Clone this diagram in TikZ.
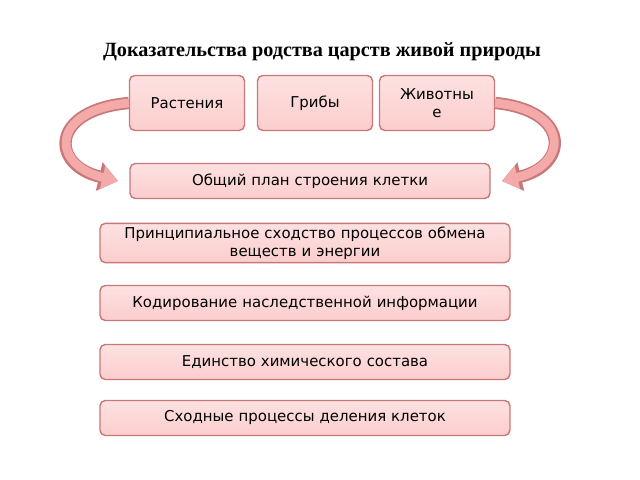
\documentclass[tikz,border=0pt]{standalone}
\usepackage{fontspec}
\setmainfont{DejaVu Sans}
\newfontfamily\titlefont{Liberation Serif}
\usetikzlibrary{arrows.meta, positioning}
\definecolor{boxfill}{RGB}{252,205,205}
\definecolor{boxedge}{RGB}{200,120,120}
\definecolor{arrowfill}{RGB}{245,170,170}

\begin{document}
\begin{tikzpicture}[
  x=0.02cm, y=-0.02cm,
  card/.style={rectangle, rounded corners=3pt, draw=boxedge, line width=0.8pt,
    top color=white!40!boxfill, bottom color=boxfill, align=center,
    font=\fontsize{8.5pt}{10pt}\selectfont, inner sep=2pt},
  kingdom/.style={card, minimum width=2.3cm, minimum height=1.1cm, text width=2.1cm},
  wide/.style={card, minimum width=8.2cm, minimum height=0.7cm, text width=8cm},
  curvearrow/.style={draw=boxedge, line width=7pt, -{Triangle[width=16pt,length=11pt]}},
  curvearrowin/.style={draw=arrowfill, line width=5pt, -{Triangle[width=13pt,length=9pt]}}
]
  \useasboundingbox (0,0) rectangle (640,480);

  % Title
  \node[font=\titlefont\bfseries\fontsize{11.5pt}{13pt}\selectfont] (title) at (322,52)
    {Доказательства родства царств живой природы};

  % Kingdoms
  \node[kingdom] (plants) at (187,103) {Растения};
  \node[kingdom] (fungi) at (315,103) {Грибы};
  \node[kingdom] (animals) at (437,103) {Животны\\е};

  % Common
  \node[card, minimum width=7.2cm, minimum height=0.7cm, text width=7cm] (plan) at (310,181)
    {Общий план строения клетки};
  \node[wide] (metab) at (305,243) {Принципиальное сходство процессов обмена\\веществ и энергии};
  \node[wide] (code) at (305,303) {Кодирование наследственной информации};
  \node[wide] (chem) at (305,362) {Единство химического состава};
  \node[wide] (div) at (305,418) {Сходные процессы деления клеток};

  % Curved arrows
  \coordinate (lend) at (118,181);
  \coordinate (rend) at (502,181);
  \draw[curvearrow] (plants.west) .. controls (50,110) and (50,165) .. (lend);
  \draw[curvearrowin] (plants.west) .. controls (50,110) and (50,165) .. (lend);
  \draw[curvearrow] (animals.east) .. controls (570,110) and (570,165) .. (rend);
  \draw[curvearrowin] (animals.east) .. controls (570,110) and (570,165) .. (rend);
\end{tikzpicture}
\end{document}
